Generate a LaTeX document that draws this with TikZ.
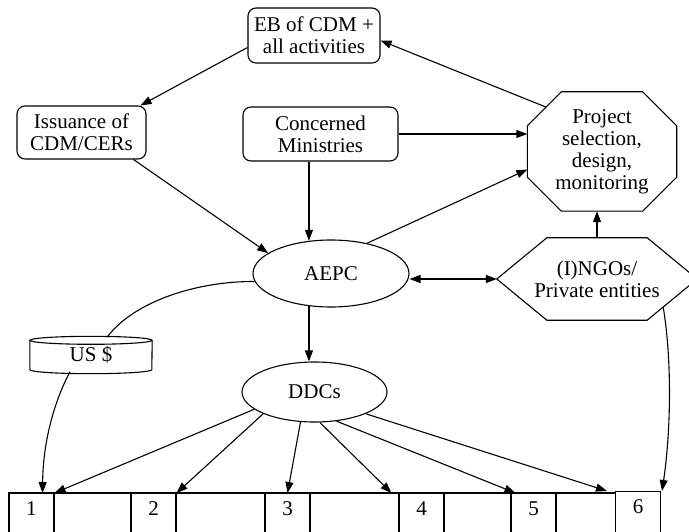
\documentclass[tikz,border=0pt]{standalone}
\usepackage{fontspec}
\setmainfont{Liberation Serif}
\usetikzlibrary{arrows.meta,shapes.geometric,calc}
\begin{document}
\begin{tikzpicture}[x=1pt,y=-1pt,
  every node/.style={font=\fontsize{21}{22}\selectfont, inner sep=0pt, align=center},
  plain/.style={line width=1.1pt},
  rbox/.style={plain, draw, rounded corners=8pt},
  oval/.style={plain, draw, ellipse},
  arr/.style={plain, -{Triangle[length=11pt,width=8pt]}},
  darr/.style={plain, {Triangle[length=11pt,width=8pt]}-{Triangle[length=11pt,width=8pt]}},
  cell/.style={plain, draw, minimum width=45pt, minimum height=50pt, text depth=20pt, anchor=north},
]
\useasboundingbox (0,0) rectangle (689,532);
\clip (0,0) rectangle (689,532);

% boxes and ellipses
\node[rbox, minimum width=132pt, minimum height=55pt] (eb) at (314,35.5) {EB of CDM +\\all activities};
\node[rbox, minimum width=129pt, minimum height=53pt] (iss) at (81.5,132.5) {Issuance of\\CDM/CERs};
\node[rbox, minimum width=155pt, minimum height=54pt] (cm) at (320.5,134) {Concerned\\Ministries};
\node[oval, minimum width=156pt, minimum height=67pt] (aepc) at (331,273.5) {AEPC};
\node[oval, minimum width=145pt, minimum height=60pt] (ddc) at (314.5,392) {DDCs};

% octagon
\node[minimum width=149pt, minimum height=119pt] (oct) at (602,151.5) {Project\\selection,\\design,\\monitoring};
\coordinate (o1) at ([xshift=34pt]oct.north west);
\coordinate (o2) at ([xshift=-34pt]oct.north east);
\coordinate (o3) at ([yshift=-34pt]oct.north east);
\coordinate (o4) at ([yshift=34pt]oct.south east);
\coordinate (o5) at ([xshift=-34pt]oct.south east);
\coordinate (o6) at ([xshift=34pt]oct.south west);
\coordinate (o7) at ([yshift=34pt]oct.south west);
\coordinate (o8) at ([yshift=-34pt]oct.north west);
\draw[plain, line join=miter] (o1) -- (o2) -- (o3) -- (o4) -- (o5) -- (o6) -- (o7) -- (o8) -- cycle;

% hexagon
\node[minimum width=200pt, minimum height=82pt] (hex) at (597,279) {(I)NGOs/\\Private entities};
\draw[plain, line join=miter] (hex.west) -- ([xshift=50pt]hex.north west) -- ([xshift=-50pt]hex.north east)
  -- (hex.east) -- ([xshift=-50pt]hex.south east) -- ([xshift=50pt]hex.south west) -- cycle;

% money drum
\node[minimum width=122pt, minimum height=37pt] (usd) at (91,355) {US \$};
\draw[plain] ([yshift=-4pt]usd.north) ellipse [x radius=61pt, y radius=4pt];
\draw[plain] ([yshift=-4pt]usd.north west) -- ([yshift=4pt]usd.south west)
  arc[start angle=180, end angle=360, x radius=61pt, y radius=4pt] -- ([yshift=-4pt]usd.north east);

% district cells
\node[cell] (b1) at (31.5,493) {1};
\node[cell] (b2) at (153.5,493) {2};
\node[cell] (b3) at (287.5,493) {3};
\node[cell] (b4) at (421.5,493) {4};
\node[cell] (b5) at (533.5,493) {5};
\node[cell] (b6) at (638,491) {6};
\draw[plain] (b1.north west) -- (b1.north -| b6.west);

% connectors
\draw[arr] ($(o8)!0.55!(o1)$) -- ([yshift=-5pt]eb.east);
\draw[arr] ([yshift=-12pt]eb.west) -- ([xshift=-6pt]iss.north east);
\draw[arr] (cm.east) -- (cm.east -| oct.west);
\draw[arr] ([xshift=-13pt]iss.south east) -- (aepc.162);
\draw[arr] (aepc.124 |- cm.south) -- (aepc.124);
\draw[arr] (aepc.40) -- ([yshift=-18pt]oct.west);
\draw[darr] (aepc.east |- hex.west) -- (hex.west);
\draw[arr] (hex.north) -- (hex.north |- oct.south);
\draw[arr] (aepc.236) -- (aepc.236 |- ddc.north);

\coordinate (ustop) at ([xshift=16pt,yshift=-1pt]usd.north);
\coordinate (usbot) at ([xshift=-21pt,yshift=2pt]usd.south);
\draw[plain] (aepc.186) .. controls (200,281) and (135,300) .. (ustop);
\draw[arr] (usbot) .. controls (55,400) and (43,440) .. ([xshift=-12pt]b1.north east);

\coordinate (hexout) at ($(hex.east)!0.68!([xshift=-50pt]hex.south east)$);
\draw[arr] (hexout) .. controls (672,360) and (671,430) .. ([xshift=1pt]b6.north east);

\draw[arr] (ddc.196) -- (b1.north east);
\draw[arr] (ddc.203) -- (b2.north east);
\draw[arr] (ddc.245) -- (b3.north);
\draw[arr] (ddc.280) -- ([xshift=-7pt]b4.north west);
\draw[arr] (ddc.307) -- ([xshift=5pt]b5.north west);
\draw[arr] (ddc.337) -- ([xshift=-8pt]b6.north west);
\end{tikzpicture}
\end{document}
